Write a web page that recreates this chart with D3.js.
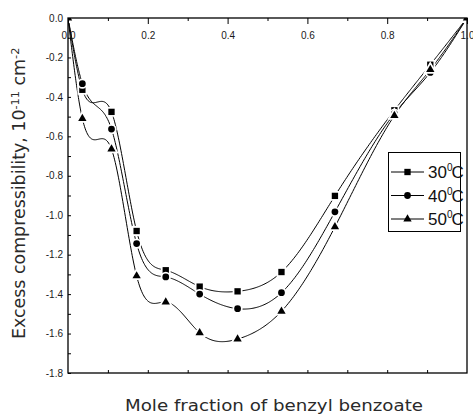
<!DOCTYPE html>
<html>
<head>
<meta charset="utf-8">
<script src="https://cdn.jsdelivr.net/npm/d3@7"></script>
<style>
  html, body { margin: 0; padding: 0; background: #fff; }
  svg { display: block; }
  .tick-label { font-family: "Liberation Sans", Arial, sans-serif; font-size: 10px; fill: #1a1a1a; }
  .title { font-family: "DejaVu Sans", sans-serif; fill: #2a2a2a; }
  .legend-text { font-family: "Liberation Sans Narrow", "Liberation Sans", Arial, sans-serif; fill: #111; }
</style>
</head>
<body>
<svg id="chart" width="473" height="414"></svg>
<script>
// Mole fraction of benzyl benzoate (x) and excess compressibility (10^-11 cm^2 per dyne)
const molFraction = [0, 0.036, 0.109, 0.172, 0.245, 0.330, 0.425, 0.535, 0.669, 0.818, 0.908, 1.0];
const kE30 = [0, -0.364, -0.476, -1.080, -1.279, -1.362, -1.386, -1.288, -0.902, -0.468, -0.237, 0];
const kE40 = [0, -0.333, -0.563, -1.144, -1.313, -1.400, -1.474, -1.393, -0.983, -0.485, -0.276, 0];
const kE50 = [0, -0.510, -0.665, -1.308, -1.440, -1.596, -1.628, -1.487, -1.059, -0.495, -0.262, 0];

const seriesNames = ["30", "40", "50"];
const seriesMarkers = ["square", "circle", "triangle"];

const xTickValues = [0, 0.2, 0.4, 0.6, 0.8, 1.0];
const xMinorTicks = [0.1, 0.3, 0.5, 0.7, 0.9];
const yTickValues = [0, -0.2, -0.4, -0.6, -0.8, -1.0, -1.2, -1.4, -1.6, -1.8];
const yMinorTicks = d3.range(0, 19).map(i => -i / 10);

const svg = d3.select("#chart");
const plotLeft = 68, plotRight = 467, plotTop = 18, plotBottom = 373;

const x = d3.scaleLinear().domain([0, 1]).range([plotLeft, plotRight]);
const y = d3.scaleLinear().domain([0, -1.8]).range([plotTop, plotBottom]);

// Natural cubic spline y(x) through the measured points, sampled for drawing
function splineSamples(xs, ys, steps) {
  const n = xs.length;
  const h = d3.range(n - 1).map(i => xs[i + 1] - xs[i]);
  const M = new Array(n).fill(0);
  const a = [], b = [], c = [], d = [];
  for (let i = 1; i < n - 1; i++) {
    a.push(h[i - 1]);
    b.push(2 * (h[i - 1] + h[i]));
    c.push(h[i]);
    d.push(6 * ((ys[i + 1] - ys[i]) / h[i] - (ys[i] - ys[i - 1]) / h[i - 1]));
  }
  const m = b.length;
  for (let i = 1; i < m; i++) {
    const w = a[i] / b[i - 1];
    b[i] -= w * c[i - 1];
    d[i] -= w * d[i - 1];
  }
  const sol = new Array(m);
  sol[m - 1] = d[m - 1] / b[m - 1];
  for (let i = m - 2; i >= 0; i--) sol[i] = (d[i] - c[i] * sol[i + 1]) / b[i];
  for (let i = 0; i < m; i++) M[i + 1] = sol[i];
  const pts = [];
  for (let i = 0; i < n - 1; i++) {
    const x0 = xs[i], x1 = xs[i + 1], hi = h[i];
    for (let k = 0; k < steps; k++) {
      const t = x0 + hi * k / steps;
      const v = M[i] * Math.pow(x1 - t, 3) / (6 * hi) + M[i + 1] * Math.pow(t - x0, 3) / (6 * hi)
        + (ys[i] / hi - M[i] * hi / 6) * (x1 - t) + (ys[i + 1] / hi - M[i + 1] * hi / 6) * (t - x0);
      pts.push([t, v]);
    }
  }
  pts.push([xs[n - 1], ys[n - 1]]);
  return pts;
}

const symbolFor = {
  square: d3.symbol().type(d3.symbolSquare).size(40),
  circle: d3.symbol().type(d3.symbolCircle).size(36),
  triangle: d3.symbol().type(d3.symbolTriangle).size(30)
};

svg.append("defs").append("clipPath").attr("id", "plot-clip")
  .append("rect").attr("x", plotLeft).attr("y", plotTop)
  .attr("width", plotRight - plotLeft).attr("height", plotBottom - plotTop);

const plot = svg.append("g").attr("clip-path", "url(#plot-clip)");
const line = d3.line().x(d => x(d[0])).y(d => y(d[1]));
const allSeries = [kE30, kE40, kE50];

allSeries.forEach(vals => {
  plot.append("path")
    .attr("d", line(splineSamples(molFraction, vals, 40)))
    .attr("fill", "none").attr("stroke", "#000").attr("stroke-width", 1);
});

allSeries.forEach((vals, si) => {
  plot.selectAll(null).data(vals).join("path")
    .attr("transform", (v, i) => `translate(${x(molFraction[i])},${y(v)})`)
    .attr("d", symbolFor[seriesMarkers[si]]())
    .attr("fill", "#000").attr("stroke", "#fff").attr("stroke-width", 3.5)
    .style("paint-order", "stroke");
});

// Frame
svg.append("rect").attr("x", plotLeft).attr("y", plotTop)
  .attr("width", plotRight - plotLeft).attr("height", plotBottom - plotTop)
  .attr("fill", "none").attr("stroke", "#000").attr("stroke-width", 1.3);

// Top axis: labels sit inside the frame, ticks point down
svg.append("g").attr("transform", `translate(0,${plotTop})`)
  .call(d3.axisBottom(x).tickValues(xTickValues).tickSize(6).tickPadding(8).tickFormat(d => d.toFixed(1)));
svg.append("g").attr("transform", `translate(0,${plotTop})`)
  .call(d3.axisBottom(x).tickValues(xMinorTicks).tickSize(3).tickFormat(""));

// Bottom axis: ticks only, pointing up
svg.append("g").attr("transform", `translate(0,${plotBottom})`)
  .call(d3.axisTop(x).tickValues(d3.range(1, 10).map(i => i / 10)).tickSize(3).tickFormat(""));

// Left axis: labels outside, ticks inside
svg.append("g").attr("transform", `translate(${plotLeft},0)`)
  .call(d3.axisLeft(y).tickValues(yTickValues).tickSize(0).tickPadding(5).tickFormat(d => d.toFixed(1)));
svg.append("g").attr("transform", `translate(${plotLeft},0)`)
  .call(d3.axisRight(y).tickValues(yMinorTicks).tickSize(3).tickFormat(""));

svg.selectAll(".domain").remove();
svg.selectAll(".tick line").attr("stroke", "#000").attr("stroke-width", 1);
svg.selectAll(".tick text").attr("class", "tick-label").attr("fill", null);

// Legend
const legend = svg.append("g");
legend.append("rect").attr("x", 388.5).attr("y", 152.5).attr("width", 72).attr("height", 79)
  .attr("fill", "#fff").attr("stroke", "#000").attr("stroke-width", 1);
seriesNames.forEach((name, i) => {
  const cy = 172 + i * 23.5;
  legend.append("line").attr("x1", 391).attr("x2", 424).attr("y1", cy).attr("y2", cy)
    .attr("stroke", "#000").attr("stroke-width", 1);
  legend.append("path").attr("transform", `translate(407.5,${cy})`)
    .attr("d", symbolFor[seriesMarkers[i]]()).attr("fill", "#000");
  const t = legend.append("text").attr("class", "legend-text").attr("x", 428).attr("y", cy + 6)
    .style("font-size", "17px");
  t.append("tspan").text(name);
  t.append("tspan").attr("dy", -7).style("font-size", "10px").text("0");
  t.append("tspan").attr("dy", 7).attr("dx", -1).text("C");
});

// Axis titles
svg.append("text").attr("class", "title").attr("x", 274).attr("y", 411)
  .attr("text-anchor", "middle").style("font-size", "16px")
  .attr("textLength", 298).attr("lengthAdjust", "spacingAndGlyphs")
  .text("Mole fraction of benzyl benzoate");

const yt = svg.append("text").attr("class", "title")
  .attr("transform", "translate(25,339) rotate(-90)")
  .attr("text-anchor", "start").style("font-size", "16px");
yt.append("tspan").text("Excess compressibility, 10");
yt.append("tspan").attr("class", "sup").attr("dy", -6).text("-11");
yt.append("tspan").attr("dy", 6).text(" cm");
yt.append("tspan").attr("class", "sup").attr("dy", -6).text("-2");
yt.selectAll(".sup").style("font-size", "10.5px");
// fit the title to the span of the vertical axis
const ytLen = yt.node().getComputedTextLength();
const ytSize = 16 * 292 / ytLen;
yt.style("font-size", ytSize + "px");
yt.selectAll(".sup").style("font-size", (ytSize * 0.65) + "px");
</script>
</body>
</html>
